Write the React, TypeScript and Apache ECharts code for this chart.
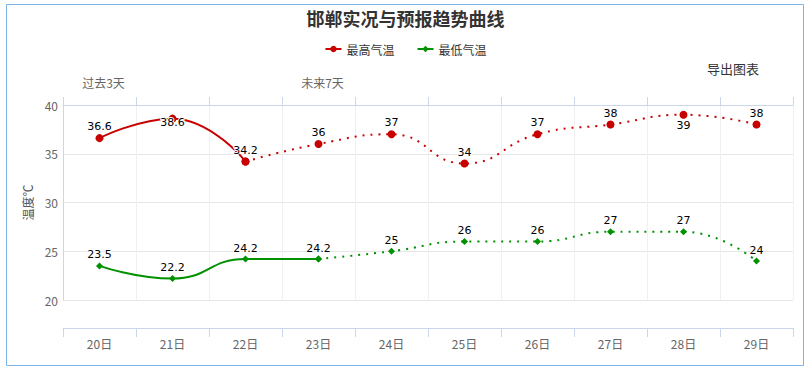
import React, { useEffect, useRef } from "react";
import * as echarts from "echarts";

const categories = ["20日", "21日", "22日", "23日", "24日", "25日", "26日", "27日", "28日", "29日"];
const topLabels = ["过去3天", "", "", "未来7天", "", "", "", "", "", ""];
const highValues = [36.6, 38.6, 34.2, 36, 37, 34, 37, 38, 39, 38];
const lowValues = [23.5, 22.2, 24.2, 24.2, 25, 26, 26, 27, 27, 24];
const highObservedCount = 3;
const lowObservedCount = 4;
const yTicks = { min: 20, max: 40, interval: 5 };

const RED = "#c80000";
const GREEN = "#009000";

function labelOverride(seriesKey: string, i: number): any {
  if (seriesKey === "high" && i === 1) return { position: "inside", offset: [0, 4] };
  if (seriesKey === "high" && i === 8) return { position: "bottom", distance: 1 };
  return null;
}

function buildData(values: number[], key: string, observed: number, part: "obs" | "fc") {
  return values.map((v, i) => {
    const inObs = i < observed;
    const inFc = i >= observed - 1;
    if (part === "obs" && !inObs) return "-";
    if (part === "fc" && !inFc) return "-";
    const item: any = { value: v };
    if (part === "fc" && i === observed - 1) {
      item.label = { show: false };
      return item;
    }
    const ov = labelOverride(key, i);
    if (ov) item.label = ov;
    return item;
  });
}

export default function App() {
  const ref = useRef<HTMLDivElement>(null);
  useEffect(() => {
    if (!ref.current) return;
    const chart = echarts.init(ref.current, undefined, { renderer: "svg" });
    const labelStyle = {
      show: true,
      position: "top",
      distance: 2,
      fontFamily: "DejaVu Sans",
      fontSize: 11,
      color: "#000",
      textBorderColor: "#fff",
      textBorderWidth: 2,
    };
    const mk = (name: string, key: string, values: number[], observed: number, part: "obs" | "fc", color: string, symbol: string, size: number) => ({
      name,
      type: "line",
      smooth: true,
      symbol,
      symbolSize: size,
      showSymbol: true,
      itemStyle: { color },
      lineStyle: { color, width: 2, type: part === "obs" ? "solid" : [2, 6], cap: "butt" },
      label: labelStyle,
      z: part === "obs" ? 3 : 2,
      data: buildData(values, key, observed, part),
    });
    chart.setOption({
      animation: false,
      textStyle: { fontFamily: '"Noto Sans CJK SC", sans-serif' },
      title: {
        text: "邯郸实况与预报趋势曲线",
        left: "center",
        top: 4,
        textStyle: { fontSize: 18, fontWeight: "bold", color: "#333" },
      },
      legend: {
        top: 38,
        left: "center",
        itemWidth: 16,
        itemHeight: 8,
        itemGap: 22,
        textStyle: { fontSize: 12, color: "#333" },
      },
      grid: { left: 63, right: 18, top: 105, bottom: 70 },
      xAxis: [
        {
          type: "category",
          data: categories,
          position: "bottom",
          offset: 28,
          boundaryGap: true,
          axisLine: { show: true, lineStyle: { color: "#ccd6eb" } },
          axisTick: { show: true, length: 9, interval: 0, lineStyle: { color: "#ccd6eb" } },
          axisLabel: { color: "#666", fontSize: 12, margin: 9 },
          splitLine: { show: true, lineStyle: { color: "#f0f0f0" } },
        },
        {
          type: "category",
          data: categories,
          position: "top",
          boundaryGap: true,
          axisLine: { show: true, lineStyle: { color: "#ccd6eb" } },
          axisTick: { show: true, length: 8, interval: 0, lineStyle: { color: "#ccd6eb" } },
          axisLabel: {
            interval: 0,
            color: "#666",
            fontSize: 12,
            margin: 17,
            padding: [0, 0, 0, 8],
            formatter: (_v: string, i: number) => topLabels[i],
          },
          splitLine: { show: false },
        },
      ],
      yAxis: {
        type: "value",
        min: yTicks.min,
        max: yTicks.max,
        interval: yTicks.interval,
        name: "温度℃",
        nameLocation: "middle",
        nameGap: 25,
        nameTextStyle: { color: "#555", fontSize: 12 },
        axisLine: { show: true, lineStyle: { color: "#ccd6eb" } },
        axisTick: { show: false },
        axisLabel: { color: "#666", fontSize: 12, margin: 5 },
        splitLine: { lineStyle: { color: "#e6e6e6" } },
      },
      graphic: [
        {
          type: "rect",
          shape: { x: 6.5, y: 4.5, width: 797, height: 361 },
          style: { fill: "none", stroke: "#7cb5ec", lineWidth: 1 },
          silent: true,
          z: 100,
        },
        {
          type: "text",
          x: 707,
          y: 62,
          style: { text: "导出图表", fontSize: 13, fill: "#333", fontFamily: '"Noto Sans CJK SC", sans-serif' },
        },
      ],
      series: [
        mk("最高气温", "high", highValues, highObservedCount, "obs", RED, "circle", 8),
        mk("最低气温", "low", lowValues, lowObservedCount, "obs", GREEN, "diamond", 7),
        mk("最高气温", "high", highValues, highObservedCount, "fc", RED, "circle", 8),
        mk("最低气温", "low", lowValues, lowObservedCount, "fc", GREEN, "diamond", 7),
      ],
    });
    return () => chart.dispose();
  }, []);
  return (
    <div
      ref={ref}
      style={{ position: "fixed", left: 0, top: 0, width: 811, height: 370, background: "#fff" }}
    />
  );
}
